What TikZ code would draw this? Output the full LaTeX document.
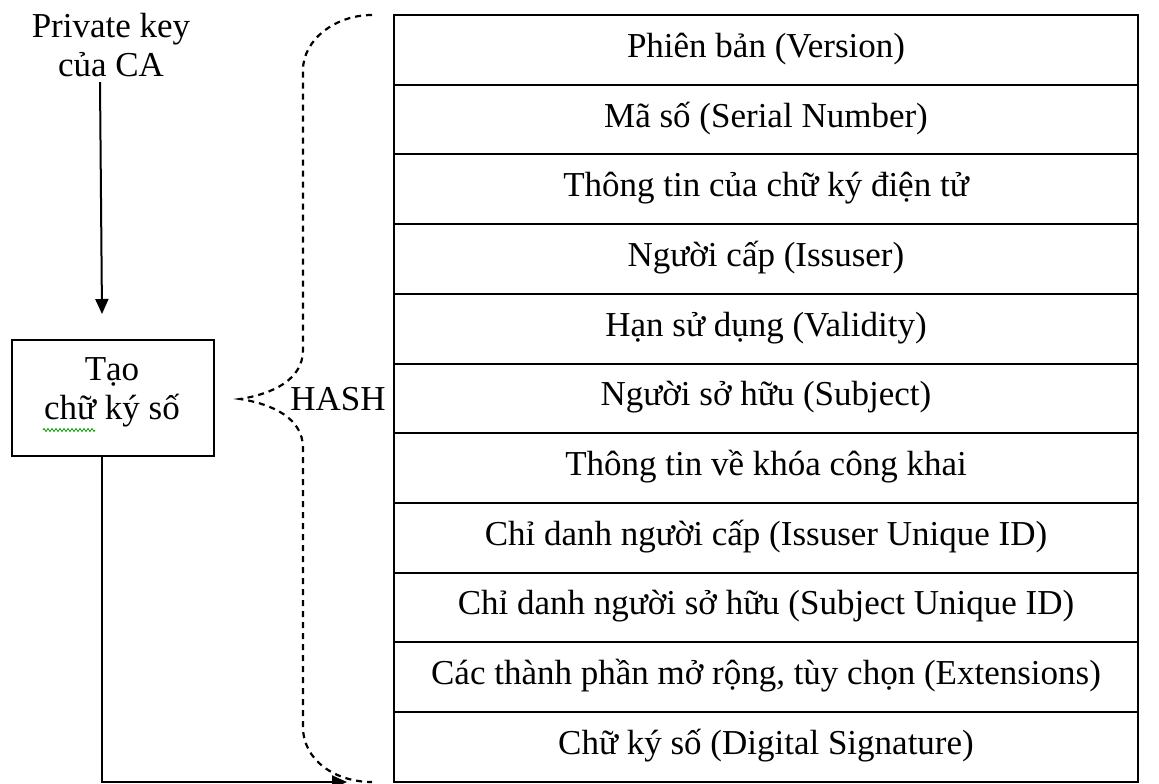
\documentclass[tikz,border=0pt]{standalone}
\usepackage{fontspec}
\setmainfont{Liberation Serif}
\usetikzlibrary{arrows.meta,decorations.pathmorphing}
\begin{document}
\begin{tikzpicture}[x=1pt,y=-1pt,
  every node/.style={font=\fontsize{35}{39}\selectfont},
  rowbox/.style={draw,line width=2pt,minimum width=744pt,minimum height=69.7pt,inner sep=0pt,text height=21pt,text depth=6pt,anchor=center},
  brace/.style={line width=2.2pt,dash pattern=on 6pt off 5pt},
  conn/.style={line width=2pt,-{Triangle[length=15pt,width=13pt]}}]
\useasboundingbox (0,0) rectangle (1159,784);
% left text and box
\node[align=center,inner sep=0pt] (pk) at (111,45) {Private key\\của CA};
\node[draw,line width=2pt,minimum width=202pt,minimum height=116pt,inner sep=0pt] (sig) at (113,398) {};
\node[align=center,inner sep=0pt] (sigtext) at (112,392) {Tạo\\chữ ký số};
\draw[green!60!black,line width=0.8pt,decorate,decoration={zigzag,amplitude=1.5pt,segment length=4pt}] (43,430) -- (95,430);
% table
\foreach \t [count=\i] in {Phiên bản (Version),Mã số (Serial Number),Thông tin của chữ ký điện tử,Người cấp (Issuser),Hạn sử dụng (Validity),Người sở hữu (Subject),Thông tin về khóa công khai,Chỉ danh người cấp (Issuser Unique ID),Chỉ danh người sở hữu (Subject Unique ID),Các thành phần mở rộng{,} tùy chọn (Extensions),Chữ ký số (Digital Signature)}
  \node[rowbox] (r\i) at (766,{15+69.7*(\i-0.5)}) {\t};
% brace
\coordinate (btop) at (372,15);
\coordinate (bbot) at (372,782);
\coordinate (tip) at (240,399);
\draw[brace] (btop) .. controls (335,15) and (303,40) .. (303,70) -- (303,350)
  .. controls (303,380) and (272,394) .. (tip)
  .. controls (272,404) and (303,418) .. (303,448) -- (303,727)
  .. controls (303,760) and (335,782) .. (bbot);
\node[anchor=base,inner sep=0pt] (hash) at (338,410) {HASH};
% connectors
\coordinate (arrtip) at (347,782);
\draw[conn] ([xshift=-11pt,yshift=-5pt]pk.south) -- ([xshift=-11pt,yshift=25pt]sig.north);
\draw[conn] ([xshift=-11pt]sig.south) |- (arrtip);
\end{tikzpicture}
\end{document}
